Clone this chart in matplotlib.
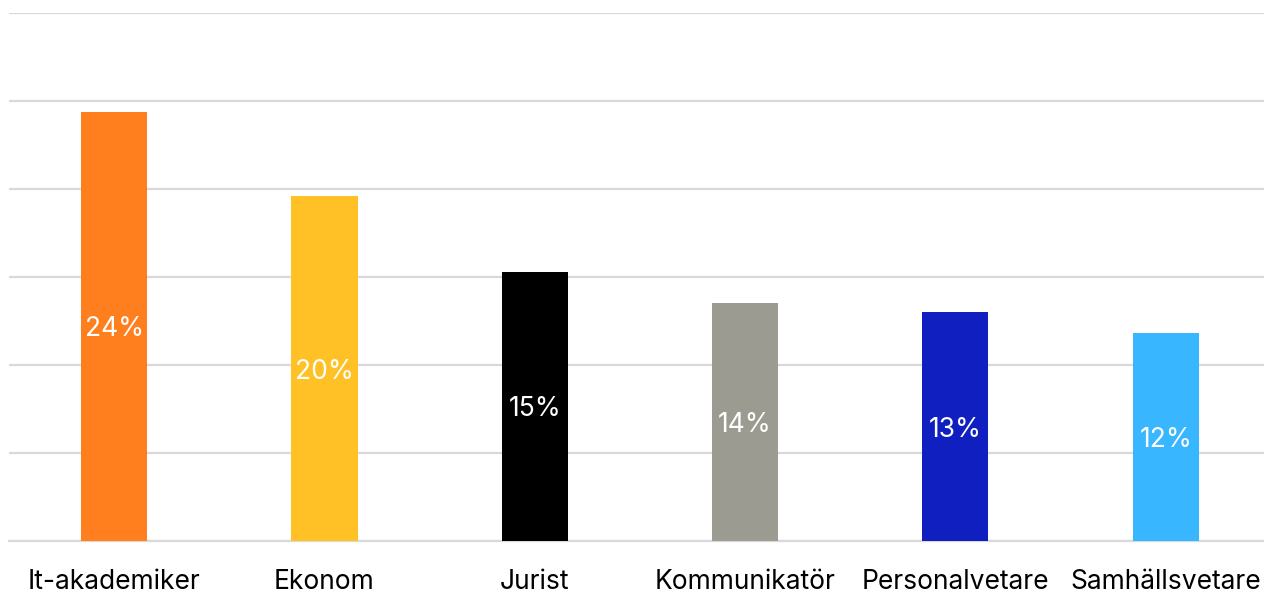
import matplotlib.pyplot as plt

# data
kategorier = ['It-akademiker', 'Ekonom', 'Jurist', 'Kommunikatör', 'Personalvetare', 'Samhällsvetare']
andel = [24.4, 19.6, 15.3, 13.5, 13.0, 11.8]
etiketter = ['24%', '20%', '15%', '14%', '13%', '12%']
farger = ['#FF7F1F', '#FFC125', '#000000', '#9C9B91', '#1020C0', '#38B6FF']

plt.rcParams['font.family'] = ['Inter', 'DejaVu Sans']

fig = plt.figure(figsize=(12.64, 5.93), dpi=100)
ax = fig.add_axes([9 / 1264, 52 / 593, 1 - 9 / 1264, 528 / 593])

x = range(len(kategorier))
bars = ax.bar(x, andel, width=0.314, color=farger, zorder=3)

for b, t in zip(bars, etiketter):
    ax.text(b.get_x() + b.get_width() / 2, b.get_height() / 2, t,
            ha='center', va='center_baseline', color='white', fontsize=19, zorder=4)

ax.set_xlim(-0.5, 5.467)
ax.set_ylim(0, 30)
ax.set_yticks(range(0, 31, 5))
ax.yaxis.grid(True, color='#d9d9d9', linewidth=1.6, zorder=0)
ax.tick_params(axis='y', left=False, labelleft=False)
ax.tick_params(axis='x', length=0, pad=20, labelsize=19)
ax.set_xticks(list(x))
ax.set_xticklabels(kategorier)
for s in ['top', 'right', 'left']:
    ax.spines[s].set_visible(False)
ax.spines['bottom'].set_color('#d9d9d9')
ax.spines['bottom'].set_linewidth(1.6)

fig.savefig('out.png', dpi=100)
